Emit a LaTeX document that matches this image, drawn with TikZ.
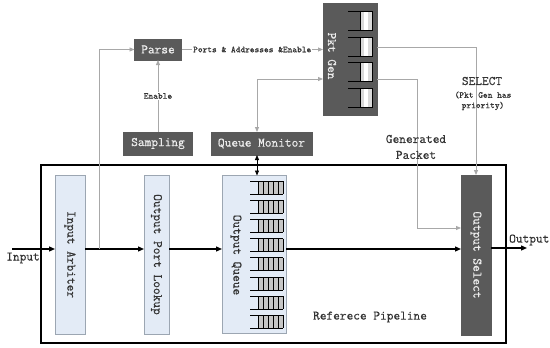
\documentclass[tikz,border=0pt]{standalone}
\usepackage{fontspec}
\newfontfamily\diagfont{Latin Modern Mono}[FakeBold=0.5]
\usetikzlibrary{arrows.meta}
\definecolor{boxgray}{HTML}{5A5A5A}
\definecolor{boxtext}{HTML}{EDEDED}
\definecolor{stageblue}{HTML}{E3EBF6}
\definecolor{stageedge}{HTML}{9CA6B2}
\definecolor{linegray}{HTML}{A8A8A8}
\definecolor{txt}{HTML}{333333}
\begin{document}
\begin{tikzpicture}[x=1pt,y=-1pt,
  bigfont/.style={font=\diagfont\fontsize{13}{15}\selectfont, text=txt},
  smallfont/.style={font=\diagfont\fontsize{9}{10.5}\selectfont, text=txt},
  darkbox/.style={fill=boxgray, draw=boxgray, inner sep=0pt, outer sep=0pt, bigfont, text=boxtext},
  stage/.style={fill=stageblue, draw=stageedge, line width=0.6pt, inner sep=0pt, outer sep=0pt},
  vlabel/.style={rotate=-90, inner sep=0pt, bigfont},
  mainarrow/.style={line width=1.3pt, -{Triangle[length=6pt,width=5pt]}},
  grayline/.style={draw=linegray, line width=0.8pt},
  arrowend/.style={-{Triangle[length=5pt,width=4pt]}},
  bothends/.style={{Triangle[length=5pt,width=4pt]}-{Triangle[length=5pt,width=4pt]}},
  lbl/.style={inner sep=1pt, fill=white},
]
\useasboundingbox (0,0) rectangle (550,348);

% main pipeline box
\node[draw=black, line width=1.4pt, minimum width=465pt, minimum height=178pt, inner sep=0pt, outer sep=0pt] (pipe) at (273.5,254) {};

% pipeline stages
\node[stage, minimum width=30pt, minimum height=159pt] (arb) at (70,254.5) {};
\node[vlabel] (arbt) at (arb.center) {Input Arbiter};
\node[stage, minimum width=25pt, minimum height=159pt] (opl) at (156.5,254.5) {};
\node[vlabel] (oplt) at (opl.center) {Output Port Lookup};
\node[stage, minimum width=64pt, minimum height=158pt] (oq) at (254,254.5) {};
\node[vlabel] (oqt) at (236,255) {Output Queue};
\node[darkbox, minimum width=30pt, minimum height=160pt] (osel) at (476,255) {};
\node[vlabel, text=boxtext] (oselt) at (osel.center) {Output Select};

% queue slots
\foreach \i in {0,...,7}{
  \pgfmathsetmacro{\t}{181+19.2*\i}
  \pgfmathsetmacro{\b}{\t+13}
  \fill[gray!45] (258,\t) rectangle (283,\b);
  \foreach \xx in {258,263,268,273,278,283}{\draw[line width=0.5pt] (\xx,\t) -- (\xx,\b);}
  \draw[line width=1pt] (250,\t) -- (283,\t);
  \draw[line width=1pt] (250,\b) -- (283,\b);
}

% upper blocks
\node[darkbox, minimum width=47pt, minimum height=21pt] (parse) at (158,49.5) {Parse};
\node[darkbox, minimum width=69pt, minimum height=23pt] (samp) at (158,143.5) {Sampling};
\node[darkbox, minimum width=101pt, minimum height=23pt] (qm) at (261.5,143.5) {Queue Monitor};
\node[darkbox, minimum width=54pt, minimum height=112pt] (pkt) at (350,59) {};
\node[vlabel, text=boxtext] (pktt) at (332,56) {Pkt Gen};

% pkt gen slots
\foreach \t in {11,37,62,88}{
  \pgfmathsetmacro{\b}{\t+19}
  \fill[gray!30] (360,\t) rectangle (372,\b);
  \fill[white] (363.5,\t) rectangle (367.5,\b);
  \draw[line width=0.5pt] (360,\t) -- (360,\b);
  \draw[line width=1pt] (348,\t) -- (372,\t) -- (372,\b) -- (348,\b);
}

% coordinates
\coordinate (in) at (12,249);
\coordinate (flow) at (0,249);
\coordinate (br) at (99,249);
\coordinate (out) at (527,248);
\coordinate (qmx) at (257,0);
\coordinate (qmpk) at (0,79);
\coordinate (s2) at (0,47);
\coordinate (s3) at (0,79);
\coordinate (s3x) at (417,0);
\coordinate (s3y) at (0,228);

% main flow
\draw[mainarrow] (in) -- (in -| arb.west);
\draw[mainarrow] (arb.east |- flow) -- (opl.west |- flow);
\draw[mainarrow] (opl.east |- flow) -- (oq.west |- flow);
\draw[mainarrow] (oq.east |- flow) -- (osel.west |- flow);
\draw[mainarrow] (osel.east |- out) -- (out);
\node[bigfont, inner sep=0pt] (inl) at (23,258) {Input};
\node[bigfont, inner sep=0pt, anchor=west] (outl) at (509,240) {Output};

% gray connectors
\draw[grayline, arrowend] (br) |- (parse.west);
\draw[grayline, arrowend] (samp.north) -- node[lbl, smallfont] (enl) {Enable} (parse.south);
\draw[grayline, arrowend] (parse.east) -- node[lbl, smallfont] (pal) {Ports \& Addresses \&Enable} (pkt.west |- parse.east);
\draw[grayline, bothends] (qm.north -| qmx) |- (pkt.west |- qmpk);
\draw[line width=0.8pt, bothends] (qm.south -| qmx) -- (oq.north -| qmx);
\draw[grayline, arrowend] (pkt.east |- s2) -| (osel.north);
\draw[grayline, arrowend] (pkt.east |- s3) -| (s3x |- s3y) -- (osel.west |- s3y);

% labels
\node[bigfont, inner sep=0pt] (sel) at (482,81) {SELECT};
\node[smallfont, inner sep=0pt] (sel2) at (483,95) {(Pkt Gen has};
\node[smallfont, inner sep=0pt] (sel3) at (483,106) {priority)};
\node[bigfont, inner sep=0pt] (gen1) at (416,139) {Generated};
\node[bigfont, inner sep=0pt] (gen2) at (416,155) {Packet};
\node[bigfont, inner sep=0pt] (refl) at (370,317) {Referece Pipeline};
\end{tikzpicture}
\end{document}
